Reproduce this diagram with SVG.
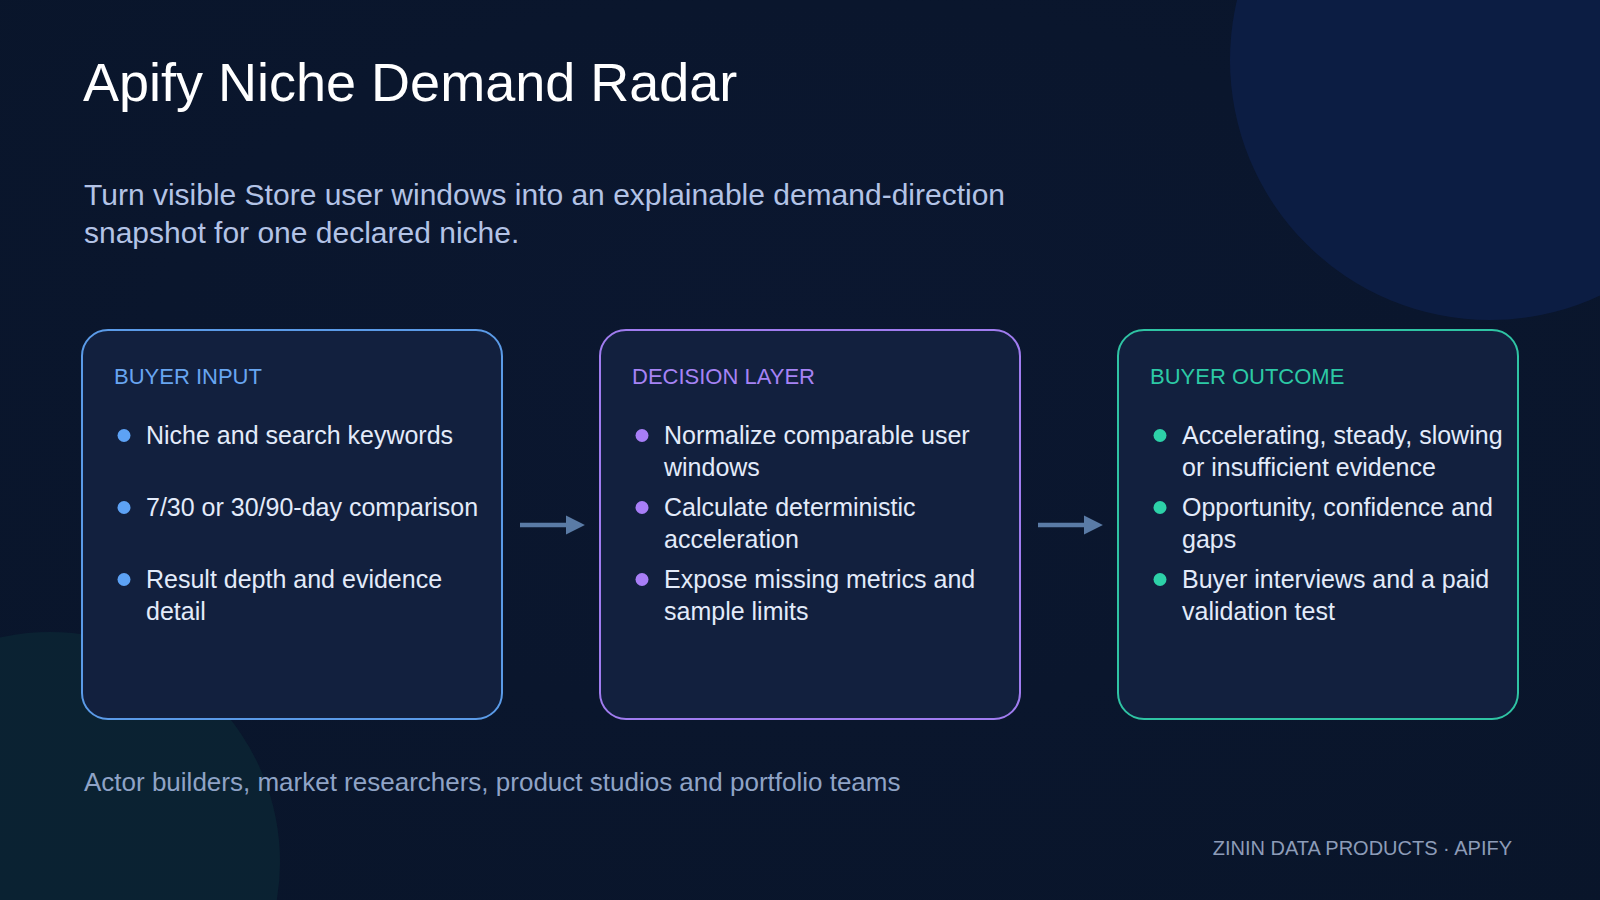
<svg xmlns="http://www.w3.org/2000/svg" width="1600" height="900" viewBox="0 0 1600 900">
  <defs>
    <radialGradient id="bgGrad" cx="0.5" cy="0.4" r="0.8">
      <stop offset="0" stop-color="#0b1730"/>
      <stop offset="1" stop-color="#09152a"/>
    </radialGradient>
    <marker id="arrowHead" viewBox="0 0 10 10" refX="0" refY="5" markerWidth="4.2" markerHeight="5.4" markerUnits="strokeWidth" orient="auto">
      <path d="M0,0 L10,5 L0,10 Z" fill="#5a7ba6"/>
    </marker>
    <style>
      .font { font-family: "Liberation Sans", Arial, Helvetica, sans-serif; }
      .box { fill: #12203e; stroke-width: 2; }
      .head { font-size: 22px; }
      .item { font-size: 25px; fill: #e3ebfa; }
      .conn { stroke: #5a7ba6; stroke-width: 4.5; fill: none; }
    </style>
  </defs>

  <rect x="0" y="0" width="1600" height="900" fill="url(#bgGrad)"/>
  <circle cx="1490" cy="60" r="260" fill="#0d1d45" opacity="0.95"/>
  <circle cx="50" cy="862" r="230" fill="#0b2433" opacity="0.9"/>

  <g class="font">
    <text x="83" y="101" font-size="54" fill="#ffffff">Apify Niche Demand Radar</text>
    <text x="84" y="205" font-size="30" fill="#b3c3e6">Turn visible Store user windows into an explainable demand-direction</text>
    <text x="84" y="243" font-size="30" fill="#b3c3e6">snapshot for one declared niche.</text>
  </g>

  <g id="node-buyer-input" class="font">
    <rect class="box" x="82" y="330" width="420" height="389" rx="26" stroke="#5b9be8"/>
    <text class="head" x="114" y="384" fill="#68a5f0">BUYER INPUT</text>
    <circle cx="124" cy="435.5" r="6.5" fill="#5da2f5"/>
    <text class="item" x="146" y="444">Niche and search keywords</text>
    <circle cx="124" cy="507.5" r="6.5" fill="#5da2f5"/>
    <text class="item" x="146" y="516">7/30 or 30/90-day comparison</text>
    <circle cx="124" cy="579.5" r="6.5" fill="#5da2f5"/>
    <text class="item" x="146" y="588">Result depth and evidence</text>
    <text class="item" x="146" y="620">detail</text>
  </g>

  <g id="node-decision-layer" class="font">
    <rect class="box" x="600" y="330" width="420" height="389" rx="26" stroke="#a07cf0"/>
    <text class="head" x="632" y="384" fill="#a683f5">DECISION LAYER</text>
    <circle cx="642" cy="435.5" r="6.5" fill="#a87ef7"/>
    <text class="item" x="664" y="444">Normalize comparable user</text>
    <text class="item" x="664" y="476">windows</text>
    <circle cx="642" cy="507.5" r="6.5" fill="#a87ef7"/>
    <text class="item" x="664" y="516">Calculate deterministic</text>
    <text class="item" x="664" y="548">acceleration</text>
    <circle cx="642" cy="579.5" r="6.5" fill="#a87ef7"/>
    <text class="item" x="664" y="588">Expose missing metrics and</text>
    <text class="item" x="664" y="620">sample limits</text>
  </g>

  <g id="node-buyer-outcome" class="font">
    <rect class="box" x="1118" y="330" width="400" height="389" rx="26" stroke="#2fc4a4"/>
    <text class="head" x="1150" y="384" fill="#2cc9a5">BUYER OUTCOME</text>
    <circle cx="1160" cy="435.5" r="6.5" fill="#2dd1a8"/>
    <text class="item" x="1182" y="444">Accelerating, steady, slowing</text>
    <text class="item" x="1182" y="476">or insufficient evidence</text>
    <circle cx="1160" cy="507.5" r="6.5" fill="#2dd1a8"/>
    <text class="item" x="1182" y="516">Opportunity, confidence and</text>
    <text class="item" x="1182" y="548">gaps</text>
    <circle cx="1160" cy="579.5" r="6.5" fill="#2dd1a8"/>
    <text class="item" x="1182" y="588">Buyer interviews and a paid</text>
    <text class="item" x="1182" y="620">validation test</text>
  </g>

  <g id="connectors">
    <line class="conn" x1="520" y1="525" x2="566" y2="525" marker-end="url(#arrowHead)"/>
    <line class="conn" x1="1038" y1="525" x2="1084" y2="525" marker-end="url(#arrowHead)"/>
  </g>

  <g class="font">
    <text x="84" y="791" font-size="26" fill="#8fa3c6">Actor builders, market researchers, product studios and portfolio teams</text>
    <text x="1512" y="855" font-size="20" fill="#8d9cb8" text-anchor="end">ZININ DATA PRODUCTS · APIFY</text>
  </g>
</svg>
